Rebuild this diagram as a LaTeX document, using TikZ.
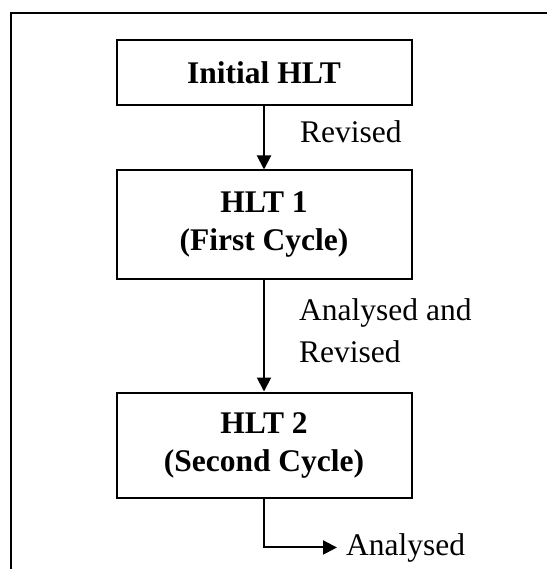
\documentclass[tikz,border=0pt]{standalone}
\usepackage{fontspec}
\setmainfont{Liberation Serif}
\usetikzlibrary{arrows.meta}
\begin{document}
\begin{tikzpicture}[x=1pt,y=1pt,
  box/.style={draw, line width=2pt, minimum width=295pt, align=center, inner sep=0pt,
    font=\fontsize{31.5}{38}\selectfont\bfseries},
  lbl/.style={inner sep=0pt, align=left, font=\fontsize{31.5}{42}\selectfont},
  conn/.style={line width=2pt, -{Triangle[length=14pt,width=14pt]}}]
\useasboundingbox (0,0) rectangle (547,-569);
\draw[line width=2pt] (11,-569) -- (11,-13) -- (547,-13);
\node[box, minimum height=65pt] (init) at (264,-72.5) {Initial HLT};
\node[box, minimum height=108pt] (h1) at (264,-224.5) {HLT 1\\(First Cycle)};
\node[box, minimum height=105pt] (h2) at (264,-445) {HLT 2\\(Second Cycle)};
\node[lbl, anchor=base west] (r1) at (300,-143) {Revised};
\node[lbl, anchor=north west] (r2) at (299,-298.5) {Analysed and\\Revised};
\node[lbl, anchor=base west, inner xsep=9pt] (an) at (337,-555) {Analysed};
\draw[conn] (init.south) -- (h1.north);
\draw[conn] (h1.south) -- (h2.north);
\draw[conn] (h2.south) |- (an.west);
\end{tikzpicture}
\end{document}
